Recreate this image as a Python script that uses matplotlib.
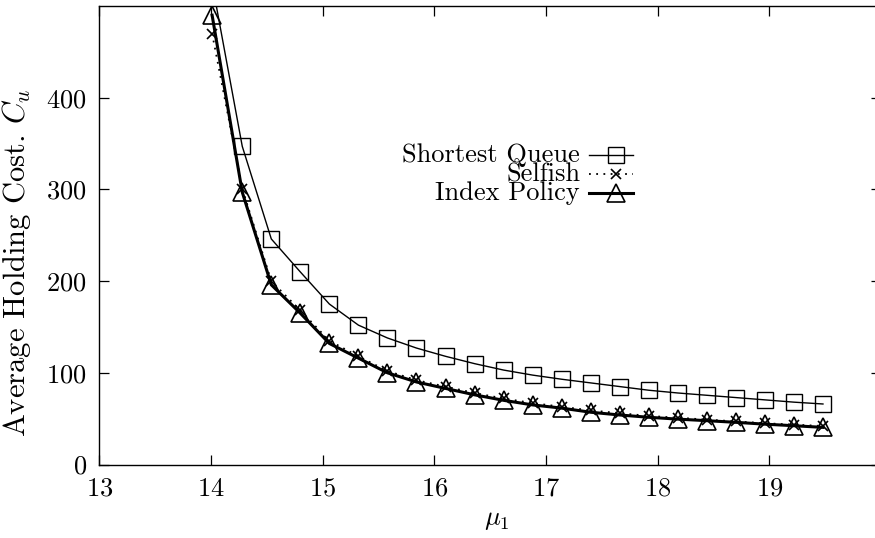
import matplotlib
matplotlib.use("Agg")
import matplotlib.pyplot as plt

plt.rcParams['font.family'] = ['cmr10', 'DejaVu Serif']
plt.rcParams['mathtext.fontset'] = 'cm'
plt.rcParams['axes.formatter.use_mathtext'] = True

# service rate of queue 1
mu1 = [14.01, 14.28, 14.54, 14.80, 15.06, 15.32, 15.58, 15.84, 16.10, 16.36, 16.62,
       16.88, 17.14, 17.40, 17.66, 17.92, 18.18, 18.44, 18.70, 18.96, 19.22, 19.48]

shortest_queue = [525, 347, 246, 210, 175, 152, 138, 127, 118, 110, 103,
                  97.5, 93, 89, 85, 81, 78, 75.5, 73, 70.5, 68, 66]
selfish = [470, 301, 200, 168, 135, 118, 102, 92, 85, 78, 72,
           67, 63, 59, 56, 53, 51, 49, 47, 45, 43.5, 42]
index_policy = [490, 297, 196, 165, 132, 116, 100, 90, 83, 76, 70,
                65, 61.5, 57, 54, 51.5, 49.5, 47.8, 46, 44, 42.3, 40.5]

x_ticks = [13, 14, 15, 16, 17, 18, 19]
y_ticks = [0, 100, 200, 300, 400]

fig = plt.figure(figsize=(8.75, 5.38), dpi=100)
ax = fig.add_axes([0.1135, 0.1366, 0.8934, 0.8522])

sq_style = dict(color='black', lw=1.0, marker='s', ms=12, mfc='none', mew=1.0)
sf_style = dict(color='black', lw=1.3, ls=(0, (1, 3)), marker='x', ms=7, mew=1.2)
ip_style = dict(color='black', lw=2.2, marker='^', ms=13, mfc='none', mew=1.2)

ax.plot(mu1, shortest_queue, **sq_style)
ax.plot(mu1, selfish, **sf_style)
ax.plot(mu1, index_policy, **ip_style)

ax.set_xlim(13, 20)
ax.set_ylim(0, 500)
ax.set_xticks(x_ticks)
ax.set_yticks(y_ticks)
ax.tick_params(direction='in', length=7, width=0.9, top=True, right=True,
               labelsize=19, pad=9)
for s in ax.spines.values():
    s.set_linewidth(1.0)

ax.set_xlabel(r'$\mu_1$', fontsize=19)
ax.xaxis.set_label_coords(0.508, -0.095)
ax.set_ylabel(r'Average Holding Cost. $C_u$', fontsize=22)
ax.yaxis.set_label_coords(-0.085, 0.44)

# gnuplot-style key: right-aligned text followed by a line sample
labels = ['Shortest Queue', 'Selfish', 'Index Policy']
styles = [sq_style, sf_style, ip_style]
rows = [0.675, 0.633, 0.592]
for lab, st, yk in zip(labels, styles, rows):
    ax.text(0.615, yk, lab, transform=ax.transAxes, ha='right', va='center',
            fontsize=19)
    line_st = {k: v for k, v in st.items() if not k.startswith('m')}
    ax.plot([0.627, 0.683], [yk, yk], transform=ax.transAxes, **line_st)
    mark_st = {k: v for k, v in st.items() if k not in ('ls', 'lw')}
    ax.plot([0.661], [yk], transform=ax.transAxes, ls='none', **mark_st)

fig.savefig('out.png', dpi=100)
